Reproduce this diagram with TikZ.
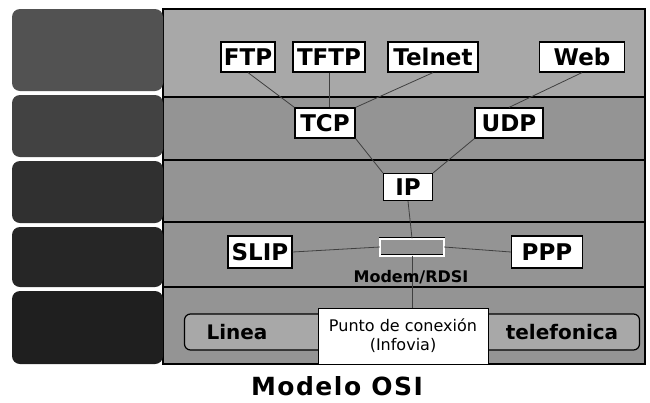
\documentclass[tikz,border=0pt]{standalone}
\usepackage{fontspec}
\setmainfont{DejaVu Sans}
\newfontfamily\titlefont[LetterSpace=6]{DejaVu Sans}
\usepackage{tikz}
\usetikzlibrary{positioning}
\definecolor{BandTop}  {gray}{0.66}
\definecolor{BandMid}  {gray}{0.58}
\definecolor{SideOne}  {gray}{0.32}
\definecolor{SideTwo}  {gray}{0.26}
\definecolor{SideThree}{gray}{0.19}
\definecolor{SideFour} {gray}{0.15}
\definecolor{SideFive} {gray}{0.12}

\begin{document}
\begin{tikzpicture}[
  x=1pt, y=-1pt,
  proto/.style={
    draw, line width=1.2pt, fill=white,
    inner sep=0pt, minimum height=30pt,
    font=\fontsize{23}{26}\selectfont\bfseries
  },
  side/.style={
    rounded corners=8pt, line width=1pt
  },
  link/.style={
    line width=0.8pt, black!75
  },
  wire/.style={
    font=\fontsize{20}{22}\selectfont\bfseries
  }
]
\useasboundingbox (0,0) rectangle (650,402);

% bandas de la derecha
\fill[BandTop] (163,9) rectangle (645,97);
\fill[BandMid] (163,97) rectangle (645,364);
\draw[line width=1.2pt] (163,9) rectangle (645,364);
\foreach \y in {97,160,222,287}{
  \draw[line width=2pt] (163,\y) -- (645,\y);
}

% columna de la izquierda
\foreach \a/\b/\c in
  {9/91/SideOne,95/157/SideTwo,161/223/SideThree,
   227/287/SideFour,291/364/SideFive}{
  \fill[side, \c] (12,\a) rectangle (163,\b);
}

% protocolos
\node[proto, minimum width=54pt] (ftp) at (248,57) {FTP};
\node[proto, minimum width=72pt] (tftp) at (329,57) {TFTP};
\node[proto, minimum width=90pt] (telnet) at (433,57) {Telnet};
\node[proto, minimum width=85pt] (web) at (582,57) {Web};

\node[proto, minimum width=60pt] (tcp) at (325,123) {TCP};
\node[proto, minimum width=68pt] (udp) at (509,123) {UDP};

\node[proto, minimum width=49pt,
  minimum height=27pt] (ip) at (408,187) {IP};

\node[proto, minimum width=64pt,
  minimum height=32pt] (slip) at (260,252) {SLIP};
\node[proto, minimum width=71pt,
  minimum height=32pt] (ppp) at (547,252) {PPP};

\node[draw, double, double distance=2pt,
  fill=BandMid, minimum width=64pt,
  minimum height=17pt] (modem) at (412,247) {};

% linea telefonica
\node[draw, line width=1.2pt, rounded corners=6pt,
  fill=BandTop, minimum width=455pt,
  minimum height=36pt] (lbar) at (412,332) {};
\node[wire] (linea) at (237,332) {Linea};
\node[wire] (telef) at (562,332) {telefonica};

\draw[link] (modem.south) -- (modem.south |- 0,308);

\node[draw, fill=white, line width=1pt,
  minimum width=170pt, minimum height=56pt,
  align=center, inner sep=0pt,
  font=\fontsize{16}{19}\selectfont] (punto) at (403,336)
  {Punto de conexión\\(Infovia)};

\node[font=\fontsize{16}{18}\selectfont\bfseries]
  (rdsi) at (411,277) {Modem/RDSI};

% conexiones
\draw[link] (ftp.south) -- (tcp.north west);
\draw[link] (tftp.south) -- (tftp.south |- tcp.north);
\draw[link] (telnet.south) -- (tcp.north east);
\draw[link] (web.south) -- (udp.north);
\draw[link] (tcp.south east) -- (ip.north west);
\draw[link] (udp.south west) -- (ip.north east);
\draw[link] (ip.south) -- (modem.north);
\draw[link] (slip.east) -- (modem.west);
\draw[link] (modem.east) -- (ppp.west);

\node[font=\titlefont\fontsize{25}{28}\selectfont\bfseries]
  (titulo) at (337,386) {Modelo OSI};
\end{tikzpicture}
\end{document}
